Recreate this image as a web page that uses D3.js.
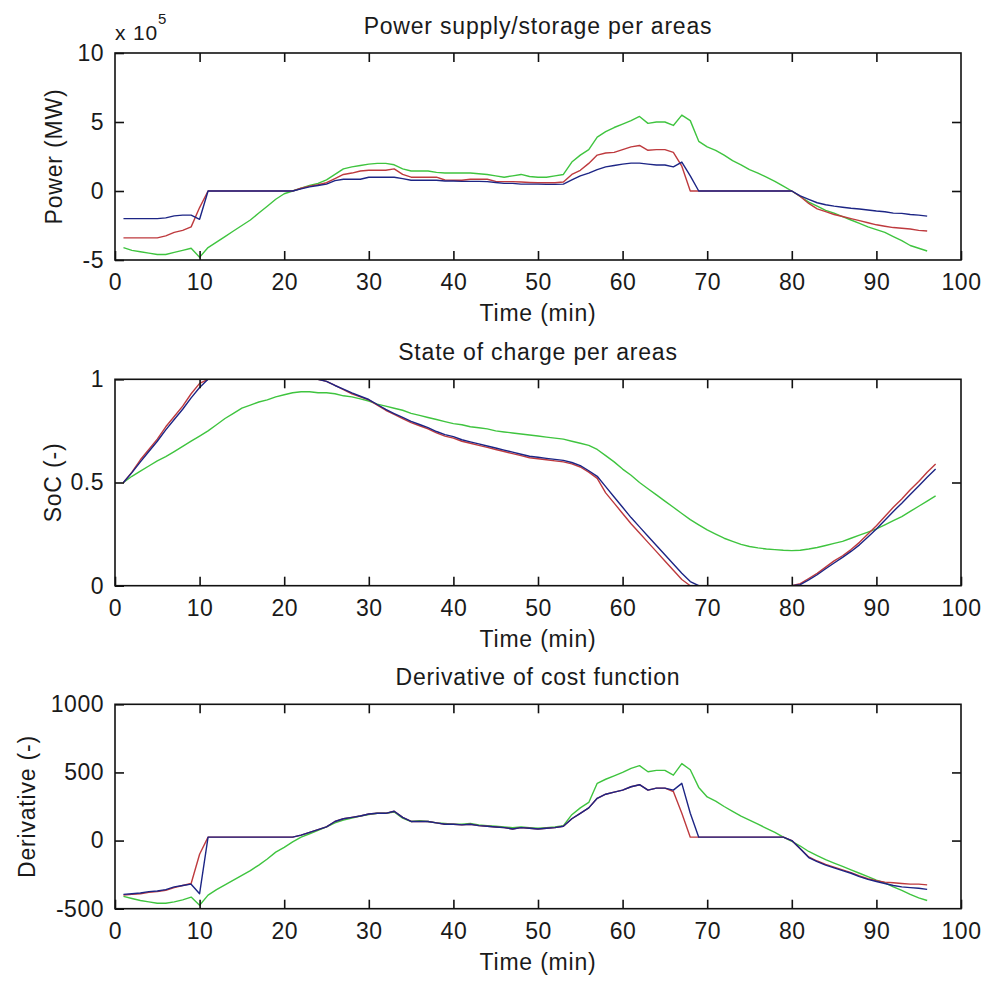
<!DOCTYPE html>
<html lang="en">
<head>
  <meta charset="UTF-8">
  <title>Power supply / SoC / Derivative per areas</title>
  <style>
    body {
      margin: 0;
      background-color: white;
      font-family: "Liberation Sans", Arial, sans-serif;
    }

    .tick text {
      font-size: 23px;
      letter-spacing: 0.5px;
      fill: #1a1a1a;
    }

    .tick line {
      stroke: #111;
      stroke-width: 1.6;
    }

    .label {
      font-size: 23px;
      letter-spacing: 0.8px;
      fill: #1a1a1a;
    }

    .frame {
      fill: none;
      stroke: #111;
      stroke-width: 1.6;
    }

    .series {
      fill: none;
      stroke-width: 1.4;
      stroke-linejoin: round;
    }
  </style>
</head>
<body>
  <div id="chart"></div>

  <script src="https://d3js.org/d3.v7.min.js"></script>
  <script>
    // Time axis (min)
    const minutes96 = [1,2,3,4,5,6,7,8,9,10,11,12,13,14,15,16,17,18,19,20,21,22,23,24,25,26,27,28,29,30,
      31,32,33,34,35,36,37,38,39,40,41,42,43,44,45,46,47,48,49,50,51,52,53,54,55,56,57,58,59,60,
      61,62,63,64,65,66,67,68,69,70,71,72,73,74,75,76,77,78,79,80,81,82,83,84,85,86,87,88,89,90,
      91,92,93,94,95,96];
    const minutes97 = minutes96.concat([97]);
    const xTicks = [0, 10, 20, 30, 40, 50, 60, 70, 80, 90, 100];

    // Panel 1: power supply/storage (x 10^5 MW)
    const powerBlue = [-2.0,-2.0,-2.0,-2.0,-2.0,-1.95,-1.8,-1.75,-1.75,-2.05,0,0,0,0,0,0,0,0,0,0,
      0,0.15,0.3,0.4,0.5,0.75,0.85,0.85,0.85,1.0,1.0,1.0,1.0,0.9,0.78,0.78,0.78,0.78,0.72,0.72,
      0.7,0.7,0.7,0.68,0.62,0.55,0.55,0.5,0.5,0.5,0.48,0.48,0.5,0.8,1.1,1.3,1.55,1.75,1.85,1.95,
      2.02,2.02,1.95,1.88,1.88,1.75,2.1,1.1,0,0,0,0,0,0,0,0,0,0,0,0,
      -0.35,-0.6,-0.85,-1.0,-1.1,-1.18,-1.25,-1.3,-1.38,-1.45,-1.5,-1.6,-1.62,-1.7,-1.75,-1.82];
    const powerRed = [-3.4,-3.4,-3.4,-3.4,-3.4,-3.25,-3.0,-2.85,-2.6,-1.2,0,0,0,0,0,0,0,0,0,0,
      0,0.2,0.35,0.45,0.6,0.9,1.2,1.3,1.45,1.5,1.5,1.5,1.6,1.2,1.0,1.0,1.0,1.0,0.8,0.78,
      0.78,0.85,0.85,0.85,0.7,0.68,0.68,0.65,0.62,0.6,0.6,0.6,0.65,1.2,1.5,2.0,2.6,2.75,2.8,3.0,
      3.2,3.3,2.95,3.0,3.0,2.8,1.8,0,0,0,0,0,0,0,0,0,0,0,0,0,
      -0.4,-0.9,-1.3,-1.5,-1.7,-1.85,-2.0,-2.15,-2.3,-2.45,-2.55,-2.65,-2.7,-2.75,-2.85,-2.9];
    const powerGreen = [-4.1,-4.3,-4.4,-4.5,-4.6,-4.6,-4.45,-4.3,-4.15,-4.8,-4.1,-3.7,-3.3,-2.9,-2.5,-2.1,-1.6,-1.1,-0.6,-0.2,
      0.0,0.2,0.4,0.55,0.8,1.2,1.6,1.75,1.85,1.95,2.0,2.0,1.9,1.6,1.45,1.45,1.45,1.35,1.3,1.3,
      1.3,1.3,1.25,1.2,1.1,1.0,1.1,1.2,1.05,1.0,1.0,1.1,1.2,2.1,2.6,3.0,3.9,4.3,4.6,4.85,
      5.1,5.4,4.9,5.0,5.0,4.75,5.5,5.1,3.6,3.2,2.95,2.6,2.2,1.9,1.55,1.3,1.0,0.7,0.35,0,
      -0.4,-0.8,-1.1,-1.4,-1.6,-1.85,-2.1,-2.35,-2.6,-2.8,-3.0,-3.3,-3.6,-3.95,-4.15,-4.35];
    const powerTicks = [-5, 0, 5, 10];

    // Panel 2: state of charge (-)
    const socBlue = [0.5,0.548,0.6,0.65,0.7,0.755,0.805,0.855,0.91,0.96,1,1,1,1,1,1,1,1,1,1,
      1,1,1,1,0.99,0.97,0.952,0.934,0.918,0.902,0.878,0.854,0.834,0.815,0.796,0.781,0.766,0.747,0.732,0.722,
      0.707,0.697,0.687,0.677,0.667,0.657,0.647,0.637,0.627,0.622,0.617,0.612,0.607,0.597,0.582,0.557,0.53,0.48,0.43,0.38,
      0.33,0.285,0.24,0.195,0.15,0.105,0.06,0.02,0,0,0,0,0,0,0,0,0,0,0,0,
      0.005,0.028,0.053,0.082,0.11,0.137,0.166,0.198,0.236,0.275,0.317,0.36,0.4,0.442,0.483,0.525,0.565];
    const socRed = [0.5,0.55,0.61,0.66,0.71,0.77,0.82,0.87,0.93,0.98,1,1,1,1,1,1,1,1,1,1,
      1,1,1,1,0.99,0.97,0.95,0.93,0.915,0.9,0.875,0.85,0.83,0.81,0.79,0.775,0.76,0.74,0.725,0.715,
      0.7,0.69,0.68,0.67,0.66,0.65,0.64,0.63,0.62,0.615,0.61,0.605,0.6,0.59,0.575,0.55,0.52,0.45,0.4,0.35,
      0.3,0.255,0.21,0.165,0.12,0.075,0.03,0,0,0,0,0,0,0,0,0,0,0,0,0,
      0.01,0.035,0.06,0.09,0.12,0.145,0.175,0.21,0.25,0.29,0.335,0.38,0.42,0.465,0.505,0.55,0.59];
    const socGreen = [0.5,0.53,0.555,0.58,0.605,0.625,0.65,0.675,0.7,0.725,0.75,0.78,0.81,0.835,0.86,0.875,0.89,0.9,0.915,0.925,
      0.935,0.94,0.94,0.935,0.935,0.93,0.92,0.915,0.905,0.895,0.88,0.87,0.86,0.85,0.835,0.825,0.815,0.805,0.795,0.785,
      0.78,0.77,0.765,0.76,0.75,0.745,0.74,0.735,0.73,0.725,0.72,0.715,0.71,0.7,0.69,0.68,0.66,0.63,0.6,0.565,
      0.535,0.5,0.47,0.44,0.41,0.38,0.35,0.32,0.295,0.27,0.25,0.23,0.215,0.2,0.19,0.183,0.178,0.175,0.172,0.17,
      0.172,0.178,0.185,0.195,0.205,0.215,0.23,0.245,0.26,0.275,0.295,0.315,0.335,0.36,0.385,0.41,0.435];
    const socTicks = [0, 0.5, 1];

    // Panel 3: derivative of cost function (-)
    const derivBlue = [-395,-390,-385,-375,-370,-360,-340,-330,-320,-390,25,25,25,25,25,25,25,25,25,25,
      25,40,60,80,100,140,160,170,180,195,200,200,215,170,140,140,140,130,120,120,
      115,120,110,105,100,95,85,95,90,85,90,95,105,160,200,240,310,340,355,370,
      395,410,370,385,385,370,420,200,25,25,25,25,25,25,25,25,25,25,25,0,
      -60,-125,-155,-180,-200,-220,-240,-265,-285,-300,-315,-330,-340,-345,-350,-358];
    const derivRed = [-400,-395,-390,-380,-375,-365,-345,-330,-315,-100,25,25,25,25,25,25,25,25,25,25,
      25,40,60,80,100,140,160,170,180,195,200,200,215,170,140,140,140,130,120,120,
      115,120,110,105,100,95,85,95,90,85,90,95,105,160,200,240,310,340,355,370,
      395,410,370,385,385,360,200,25,25,25,25,25,25,25,25,25,25,25,25,0,
      -60,-120,-150,-175,-195,-215,-235,-260,-280,-295,-305,-310,-315,-320,-320,-325];
    const derivGreen = [-410,-425,-440,-450,-460,-460,-450,-435,-415,-475,-400,-360,-325,-290,-255,-220,-180,-135,-85,-50,
      -10,25,50,75,100,130,150,165,180,190,200,200,210,165,140,145,140,130,125,120,
      120,125,115,110,105,100,95,100,95,90,95,100,110,190,240,280,420,450,475,500,
      530,550,505,515,515,480,565,520,390,320,290,250,215,180,150,120,90,60,25,-5,
      -40,-80,-110,-140,-165,-190,-215,-240,-265,-290,-310,-340,-365,-395,-420,-440];
    const derivTicks = [-500, 0, 500, 1000];

    const colors = { blue: '#1c2585', red: '#be3a3e', green: '#3fc43f' };

    const panels = [
      {
        title: 'Power supply/storage per areas', ylabel: 'Power (MW)', ylabelX: 62,
        top: 53, bottom: 260, domain: [-5, 10], ticks: powerTicks, format: d => d,
        time: minutes96, series: [powerGreen, powerRed, powerBlue], exponent: true
      },
      {
        title: 'State of charge per areas', ylabel: 'SoC (-)', ylabelX: 61,
        top: 379.3, bottom: 585.7, domain: [0, 1], ticks: socTicks, format: d => d,
        time: minutes97, series: [socGreen, socRed, socBlue]
      },
      {
        title: 'Derivative of cost function', ylabel: 'Derivative (-)', ylabelX: 35,
        top: 704.3, bottom: 908.7, domain: [-500, 1000], ticks: derivTicks, format: d => d,
        time: minutes96, series: [derivGreen, derivRed, derivBlue]
      }
    ];
    const seriesColors = [colors.green, colors.red, colors.blue];

    const width = 983, height = 981;
    const left = 115, right = 961;

    const svg = d3.select('#chart')
      .append('svg')
      .attr('width', width)
      .attr('height', height);

    const x = d3.scaleLinear().domain([0, 100]).range([left, right]);

    panels.forEach((p, i) => {
      const y = d3.scaleLinear().domain(p.domain).range([p.bottom, p.top]);
      const g = svg.append('g');

      // clip so values sitting on the limits stay inside the box
      g.append('clipPath')
        .attr('id', 'clip' + i)
        .append('rect')
        .attr('x', left)
        .attr('y', p.top)
        .attr('width', right - left)
        .attr('height', p.bottom - p.top);

      const line = d3.line()
        .x((d, j) => x(p.time[j]))
        .y(d => y(d));

      g.append('g')
        .attr('clip-path', `url(#clip${i})`)
        .selectAll('path')
        .data(p.series)
        .enter()
        .append('path')
        .attr('class', 'series')
        .attr('stroke', (d, j) => seriesColors[j])
        .attr('d', line);

      // axes: ticks point inward on all four sides
      g.append('g')
        .attr('transform', `translate(0, ${p.bottom})`)
        .call(d3.axisBottom(x).tickValues(xTicks).tickSizeInner(-9).tickSizeOuter(0).tickPadding(14))
        .call(a => a.select('.domain').remove());

      g.append('g')
        .attr('transform', `translate(0, ${p.top})`)
        .call(d3.axisTop(x).tickValues(xTicks.slice(1, -1)).tickSizeInner(-9).tickSizeOuter(0).tickFormat(''))
        .call(a => a.select('.domain').remove());

      g.append('g')
        .attr('transform', `translate(${left}, 0)`)
        .call(d3.axisLeft(y).tickValues(p.ticks).tickSizeInner(-9).tickSizeOuter(0).tickPadding(11).tickFormat(p.format))
        .call(a => a.select('.domain').remove());

      g.append('g')
        .attr('transform', `translate(${right}, 0)`)
        .call(d3.axisRight(y).tickValues(p.ticks.slice(1, -1)).tickSizeInner(-9).tickSizeOuter(0).tickFormat(''))
        .call(a => a.select('.domain').remove());

      g.selectAll('.tick text').attr('font-family', null).attr('font-size', null);
      g.selectAll('.tick line').attr('stroke', null);

      g.append('rect')
        .attr('class', 'frame')
        .attr('x', left)
        .attr('y', p.top)
        .attr('width', right - left)
        .attr('height', p.bottom - p.top);

      // title, x label, y label
      g.append('text')
        .attr('class', 'label')
        .attr('x', (left + right) / 2)
        .attr('y', p.top - 19)
        .attr('text-anchor', 'middle')
        .text(p.title);

      g.append('text')
        .attr('class', 'label')
        .attr('x', (left + right) / 2)
        .attr('y', p.bottom + 61)
        .attr('text-anchor', 'middle')
        .text('Time (min)');

      g.append('text')
        .attr('class', 'label')
        .attr('transform', `translate(${p.ylabelX}, ${(p.top + p.bottom) / 2}) rotate(-90)`)
        .attr('text-anchor', 'middle')
        .text(p.ylabel);

      if (p.exponent) {
        const ex = g.append('text')
          .attr('class', 'label')
          .attr('x', left)
          .attr('y', p.top - 13)
          .style('font-size', '21px');
        ex.append('tspan').text('x 10');
        ex.append('tspan')
          .attr('dy', -16)
          .style('font-size', '15px')
          .text('5');
      }
    });
  </script>
</body>
</html>
